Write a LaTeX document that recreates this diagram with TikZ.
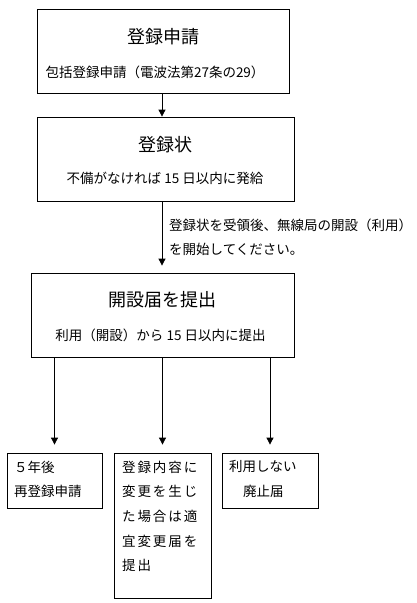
\documentclass[tikz,border=0pt]{standalone}
\usepackage{fontspec}
\setmainfont{Noto Sans CJK JP}
\newfontfamily\jpwide[LetterSpace=14]{Noto Sans CJK JP}
\usetikzlibrary{positioning, arrows.meta}

\begin{document}
\begin{tikzpicture}[x=1pt, y=-1pt,
    box/.style={draw, line width=0.8pt, inner sep=0pt},
    title/.style={font=\fontsize{18}{22}\selectfont, inner sep=0pt},
    txt/.style={font=\fontsize{13.5}{16}\selectfont, inner sep=0pt},
    lines/.style={font=\fontsize{13.5}{24.7}\selectfont, align=left, anchor=north west, inner sep=0pt},
    widelines/.style={lines, font=\jpwide\fontsize{13.5}{24.7}\selectfont},
    arr/.style={line width=0.8pt, -{Triangle[width=7pt, length=7pt]}}
  ]
  \useasboundingbox (0,0) rectangle (417,603);
  % main flow
  \node[box, minimum width=252pt, minimum height=84pt] (reg) at (163,51) {};
  \node[title] (regT) at (163,37) {登録申請};
  \node[txt] (regS) at (155,72) {包括登録申請（電波法第27条の29）};

  \node[box, minimum width=257pt, minimum height=84pt] (cert) at (165.5,159) {};
  \node[title] (certT) at (165,145) {登録状};
  \node[txt] (certS) at (165,178) {不備がなければ 15 日以内に発給};

  \node[box, minimum width=263pt, minimum height=84pt] (open) at (162.5,315) {};
  \node[title] (openT) at (162,300) {開設届を提出};
  \node[txt] (openS) at (160.5,335) {利用（開設）から 15 日以内に提出};

  \coordinate (spine) at (162,0);
  \draw[arr] (spine |- reg.south) -- (spine |- cert.north);
  \draw[arr, shorten >=7pt] (spine |- cert.south) -- (spine |- open.north);
  \node[lines] (note) at (169,218.5) {登録状を受領後、無線局の開設（利用）\\を開始してください。};

  % after opening
  \node[box, minimum width=95pt, minimum height=55pt] (renew) at (54.5,480.5) {};
  \node[box, minimum width=97pt, minimum height=145pt] (change) at (162.5,525.5) {};
  \node[box, minimum width=96pt, minimum height=55pt] (stop) at (270,480.5) {};
  \node[lines] (renewT) at (14,460.5) {５年後\\再登録申請};
  \node[widelines] (changeT) at (122,460.5) {登録内容に\\変更を生じ\\た場合は適\\宜変更届を\\提出};
  \node[lines] (stopT) at (229,460.5) {利用しない\\\hspace*{14pt}廃止届};

  \draw[arr, shorten >=8pt] (open.south -| renew.north) -- (renew.north);
  \draw[arr, shorten >=8pt] (open.south -| change.north) -- (change.north);
  \draw[arr, shorten >=8pt] (open.south -| stop.north) -- (stop.north);
\end{tikzpicture}
\end{document}
